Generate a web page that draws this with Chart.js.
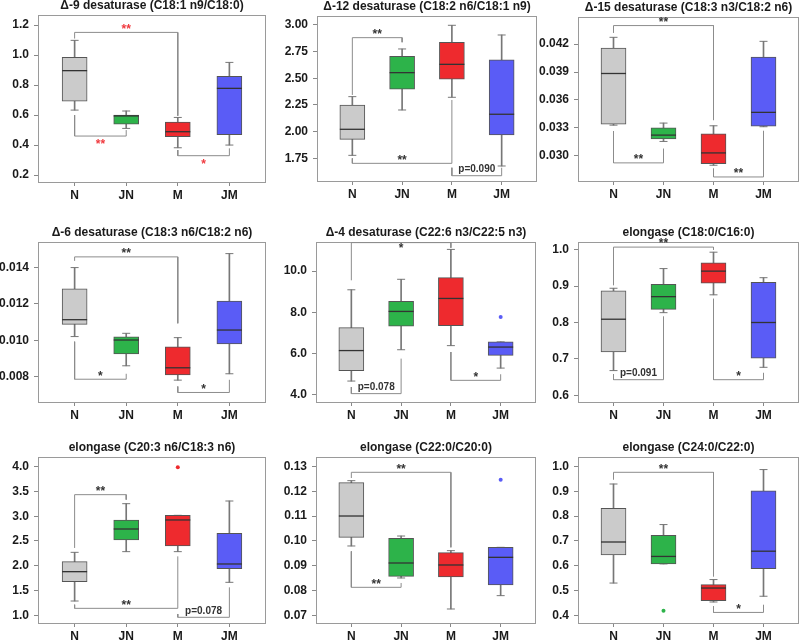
<!DOCTYPE html>
<html>
<head>
<meta charset="utf-8">
<script src="https://cdn.jsdelivr.net/npm/chart.js@4.4.1/dist/chart.umd.min.js"></script>
<style>
  body { margin: 0; background: #fff; }
  #wrap { position: relative; width: 800px; height: 643px; overflow: hidden; }
  #wrap canvas { position: absolute; }
</style>
</head>
<body>
<div id="wrap"></div>
<script>
const groups = ['N', 'JN', 'M', 'JM']
const titles = [
    'Δ-9 desaturase (C18:1 n9/C18:0)',
    'Δ-12 desaturase (C18:2 n6/C18:1 n9)',
    'Δ-15 desaturase (C18:3 n3/C18:2 n6)',
    'Δ-6 desaturase (C18:3 n6/C18:2 n6)',
    'Δ-4 desaturase (C22:6 n3/C22:5 n3)',
    'elongase (C18:0/C16:0)',
    'elongase (C20:3 n6/C18:3 n6)',
    'elongase (C22:0/C20:0)',
    'elongase (C24:0/C22:0)'
]

// box statistics, one row per panel, columns N, JN, M, JM
const whiskerLo = [
    [0.633, 0.511, 0.382, 0.40],
    [1.778, 2.203, 2.322, 1.678],
    [0.0333, 0.03155, 0.0290, 0.03313],
    [0.0102, 0.00859, 0.0078, 0.00815],
    [4.66, 6.18, 6.38, 5.29],
    [0.668, 0.827, 0.876, 0.677],
    [1.289, 2.285, 2.285, 1.666],
    [0.098, 0.08514, 0.07268, 0.07804],
    [0.531, 0.608, 0.455, 0.478]
]
const quart1 = [
    [0.693, 0.54, 0.456, 0.469],
    [1.928, 2.397, 2.491, 1.969],
    [0.0334, 0.03183, 0.02917, 0.0332],
    [0.01087, 0.00924, 0.00809, 0.00979],
    [5.16, 7.33, 7.35, 5.91],
    [0.719, 0.836, 0.908, 0.702],
    [1.679, 2.52, 2.399, 1.942],
    [0.10147, 0.0858, 0.08554, 0.08232],
    [0.644, 0.608, 0.46, 0.589]
]
const medians = [
    [0.896, 0.594, 0.489, 0.778],
    [2.022, 2.553, 2.631, 2.163],
    [0.03884, 0.03223, 0.03032, 0.03467],
    [0.01113, 0.01001, 0.00848, 0.01056],
    [6.14, 8.04, 8.67, 6.31],
    [0.809, 0.871, 0.941, 0.80],
    [1.881, 2.742, 2.924, 2.036],
    [0.11004, 0.09116, 0.09036, 0.09344],
    [0.696, 0.638, 0.511, 0.659]
]
const quart3 = [
    [0.984, 0.60, 0.553, 0.858],
    [2.25, 2.706, 2.838, 2.672],
    [0.04157, 0.03302, 0.03237, 0.0406],
    [0.01283, 0.01018, 0.00963, 0.01215],
    [7.25, 8.53, 9.68, 6.56],
    [0.887, 0.905, 0.964, 0.910],
    [2.083, 2.924, 3.018, 2.655],
    [0.12344, 0.10107, 0.09531, 0.09746],
    [0.831, 0.723, 0.525, 0.902]
]
const whiskerHi = [
    [1.098, 0.627, 0.584, 0.951],
    [2.328, 2.775, 2.997, 2.906],
    [0.04272, 0.03352, 0.03323, 0.04229],
    [0.0140, 0.01038, 0.01014, 0.01477],
    [9.09, 9.60, 11.05, 6.56],
    [0.894, 0.948, 0.993, 0.923],
    [2.271, 3.253, 3.018, 3.307],
    [0.12424, 0.102, 0.09612, 0.09746],
    [0.929, 0.766, 0.545, 0.987]
]
// outliers: [panel, group index, value]
const outliers = [
    [4, 3, 7.77],
    [6, 2, 3.99],
    [7, 3, 0.12464],
    [8, 1, 0.42]
]

const tickVals = [
    [0.2, 0.4, 0.6, 0.8, 1.0, 1.2],
    [1.75, 2.0, 2.25, 2.5, 2.75, 3.0],
    [0.030, 0.033, 0.036, 0.039, 0.042],
    [0.008, 0.010, 0.012, 0.014],
    [4, 6, 8, 10],
    [0.6, 0.7, 0.8, 0.9, 1.0],
    [1.0, 1.5, 2.0, 2.5, 3.0, 3.5, 4.0],
    [0.07, 0.08, 0.09, 0.10, 0.11, 0.12, 0.13],
    [0.4, 0.5, 0.6, 0.7, 0.8, 0.9, 1.0]
]
const tickDecimals = [1, 2, 3, 3, 1, 1, 1, 2, 1]
const yRange = [
    [0.147, 1.267], [1.528, 3.084], [0.0272, 0.0449],
    [0.00654, 0.01541], [3.595, 11.41], [0.579, 1.021],
    [0.825, 4.195], [0.06665, 0.13375], [0.3665, 1.0375]
]

// significance brackets: [panel, from, to, lineY, legFromEnd, legToEnd, label, side]
// side 1 = text above line, -1 = below, 0 = on the line
const brackets = [
    [0, 1, 3, 1.151, 1.11, 0.595, '**', 1],
    [0, 1, 2, 0.46, 0.60, 0.50, '**', -1],
    [0, 3, 4, 0.329, 0.367, 0.378, '*', -1],
    [1, 1, 2, 2.881, 2.344, 2.838, '**', 1],
    [1, 1, 3, 1.703, 1.75, 2.297, '**', 1],
    [1, 3, 4, 1.587, 1.662, 1.662, 'p=0.090', 1],
    [2, 1, 3, 0.04398, 0.04319, 0.03384, '**', 1],
    [2, 1, 2, 0.02925, 0.03266, 0.03079, '**', 1],
    [2, 3, 4, 0.02774, 0.02863, 0.0327, '**', 1],
    [3, 1, 3, 0.01459, 0.01437, 0.01093, '**', 1],
    [3, 1, 2, 0.00785, 0.00992, 0.00815, '*', 1],
    [3, 3, 4, 0.00712, 0.00745, 0.00782, '*', 1],
    [4, 1, 3, 11.38, 9.55, 11.13, '*', 0],
    [4, 1, 2, 4.05, 4.37, 5.75, 'p=0.078', 1],
    [4, 3, 4, 4.695, 6.07, 4.99, '*', 1],
    [5, 1, 3, 1.007, 0.902, 1.0, '**', 1],
    [5, 1, 2, 0.643, 0.658, 0.817, 'p=0.091', 1],
    [5, 3, 4, 0.643, 0.865, 0.662, '*', 1],
    [6, 1, 2, 3.435, 2.359, 3.334, '**', 1],
    [6, 1, 3, 1.141, 1.215, 2.19, '**', 1],
    [6, 3, 4, 0.96, 1.027, 1.565, 'p=0.078', 1],
    [7, 1, 3, 0.1276, 0.1253, 0.09746, '**', 1],
    [7, 1, 2, 0.08139, 0.09585, 0.08313, '**', 1],
    [8, 1, 3, 0.976, 0.946, 0.558, '**', 1],
    [8, 3, 4, 0.413, 0.4375, 0.444, '*', 1]
]

// plot frame of each panel on the page: left, top, right, bottom
const frames = [
    [38, 15, 266, 183], [317, 16, 537, 182], [578, 17, 799, 182],
    [38, 242, 266, 403], [316, 242, 536, 403], [578, 242, 799, 403],
    [38, 457, 266, 624], [316, 457, 536, 624], [578, 457, 799, 624]
]
const boxColors = ['#cbcbcb', '#2db34a', '#ee2a2e', '#5a5cf6']
const FONT = '"Liberation Sans", Arial, sans-serif'

const framePlugin = {
    id: 'frame',
    beforeDatasetsDraw(chart) {
        const a = chart.chartArea
        const ctx = chart.ctx
        ctx.save()
        ctx.strokeStyle = '#9a9a9a'
        ctx.lineWidth = 1
        ctx.strokeRect(Math.round(a.left) + 0.5, Math.round(a.top) + 0.5,
            Math.round(a.right - a.left) - 1, Math.round(a.bottom - a.top) - 1)
        ctx.restore()
    },
    afterDraw(chart, args, opts) {
        // panel title centred over the plot frame
        const a = chart.chartArea
        const ctx = chart.ctx
        ctx.save()
        ctx.font = 'bold 12px ' + FONT
        ctx.fillStyle = '#1a1a1a'
        ctx.textAlign = 'center'
        ctx.textBaseline = 'middle'
        ctx.fillText(opts.text, (a.left + a.right) / 2, a.top - 9)
        ctx.restore()
    }
}

const sigText = {
    id: 'sigText',
    afterDatasetsDraw(chart, args, opts) {
        const ctx = chart.ctx
        const xs = chart.scales.x, ys = chart.scales.y
        ctx.save()
        ctx.textAlign = 'center'
        ctx.textBaseline = 'middle'
        opts.items.forEach(b => {
            const x = (xs.getPixelForValue(b[1]) + xs.getPixelForValue(b[2])) / 2
            let y = ys.getPixelForValue(b[3])
            const star = b[6].indexOf('*') === 0
            if (b[7] === 1) y -= 6
            else if (b[7] === -1) y += 6
            else y += 3
            if (star) {
                ctx.font = 'bold 12px ' + FONT
                y += 3
            } else {
                ctx.font = 'bold 10px ' + FONT
            }
            ctx.fillStyle = opts.color
            ctx.fillText(b[6], x, y)
        })
        ctx.restore()
    }
}

function makePanel(p) {
    const f = frames[p]
    const fw = f[2] - f[0], fh = f[3] - f[1]
    const canvas = document.createElement('canvas')
    canvas.width = fw + 120
    canvas.height = fh + 17 + 24
    canvas.style.left = (f[0] - 60) + 'px'
    canvas.style.top = (f[1] - 17) + 'px'
    document.getElementById('wrap').appendChild(canvas)

    const pos = groups.map((g, i) => i + 1)
    const datasets = []
    datasets.push({
        type: 'bar', order: 5, grouped: false, barThickness: 1,
        data: pos.map((x, i) => ({x: x, y: [whiskerLo[p][i], whiskerHi[p][i]]})),
        backgroundColor: '#777'
    })
    datasets.push({
        type: 'scatter', order: 4, pointStyle: 'line', radius: 4,
        borderColor: '#777', borderWidth: 1,
        data: pos.map((x, i) => ({x: x, y: whiskerLo[p][i]}))
            .concat(pos.map((x, i) => ({x: x, y: whiskerHi[p][i]})))
    })
    datasets.push({
        type: 'bar', order: 3, grouped: false, barThickness: 25,
        data: pos.map((x, i) => ({x: x, y: [quart1[p][i], quart3[p][i]]})),
        backgroundColor: boxColors, borderColor: '#555', borderWidth: 1, borderSkipped: false
    })
    datasets.push({
        type: 'scatter', order: 1, pointStyle: 'line', radius: 12.5,
        borderColor: '#333', borderWidth: 1.3,
        data: pos.map((x, i) => ({x: x, y: medians[p][i]}))
    })
    const outs = outliers.filter(o => o[0] === p)
    datasets.push({
        type: 'scatter', order: 1, radius: 2, borderWidth: 0,
        backgroundColor: outs.map(o => boxColors[o[1]]),
        data: outs.map(o => ({x: o[1] + 1, y: o[2]}))
    })
    const myBrackets = brackets.filter(b => b[0] === p)
    myBrackets.forEach(b => {
        datasets.push({
            type: 'line', order: 2, borderColor: '#8c8c8c', borderWidth: 1,
            pointRadius: 0, tension: 0, fill: false,
            data: [{x: b[1], y: b[4]}, {x: b[1], y: b[3]}, {x: b[2], y: b[3]}, {x: b[2], y: b[5]}]
        })
    })

    new Chart(canvas, {
        type: 'scatter',
        data: {datasets: datasets},
        options: {
            responsive: false,
            animation: false,
            events: [],
            layout: {padding: {left: 0, right: 60, top: 17, bottom: 0}},
            plugins: {
                legend: {display: false},
                tooltip: {enabled: false},
                title: {display: false},
                frame: {text: titles[p]},
                sigText: {items: myBrackets, color: p === 0 ? '#f03a3f' : '#333'}
            },
            scales: {
                x: {
                    type: 'linear', min: 0.29, max: 4.71, offset: false,
                    afterBuildTicks: s => { s.ticks = pos.map(v => ({value: v})) },
                    afterFit: s => { s.height = 24 },
                    border: {display: false},
                    grid: {offset: false, drawOnChartArea: false, drawTicks: true, tickLength: 3, color: '#888'},
                    ticks: {
                        padding: 2, color: '#1a1a1a', maxRotation: 0,
                        font: {family: FONT, size: 12, weight: 'bold'},
                        callback: v => groups[v - 1]
                    }
                },
                y: {
                    min: yRange[p][0], max: yRange[p][1],
                    afterBuildTicks: s => { s.ticks = tickVals[p].map(v => ({value: v})) },
                    afterFit: s => { s.width = 60 },
                    border: {display: false},
                    grid: {drawOnChartArea: false, drawTicks: true, tickLength: 4, color: '#888'},
                    ticks: {
                        padding: 5, color: '#1a1a1a',
                        font: {family: FONT, size: 12, weight: 'bold'},
                        callback: v => Number(v).toFixed(tickDecimals[p])
                    }
                }
            }
        },
        plugins: [framePlugin, sigText]
    })
}

document.addEventListener('DOMContentLoaded', () => {
    for (let p = 0; p < 9; p++) makePanel(p)
})
</script>
</body>
</html>
